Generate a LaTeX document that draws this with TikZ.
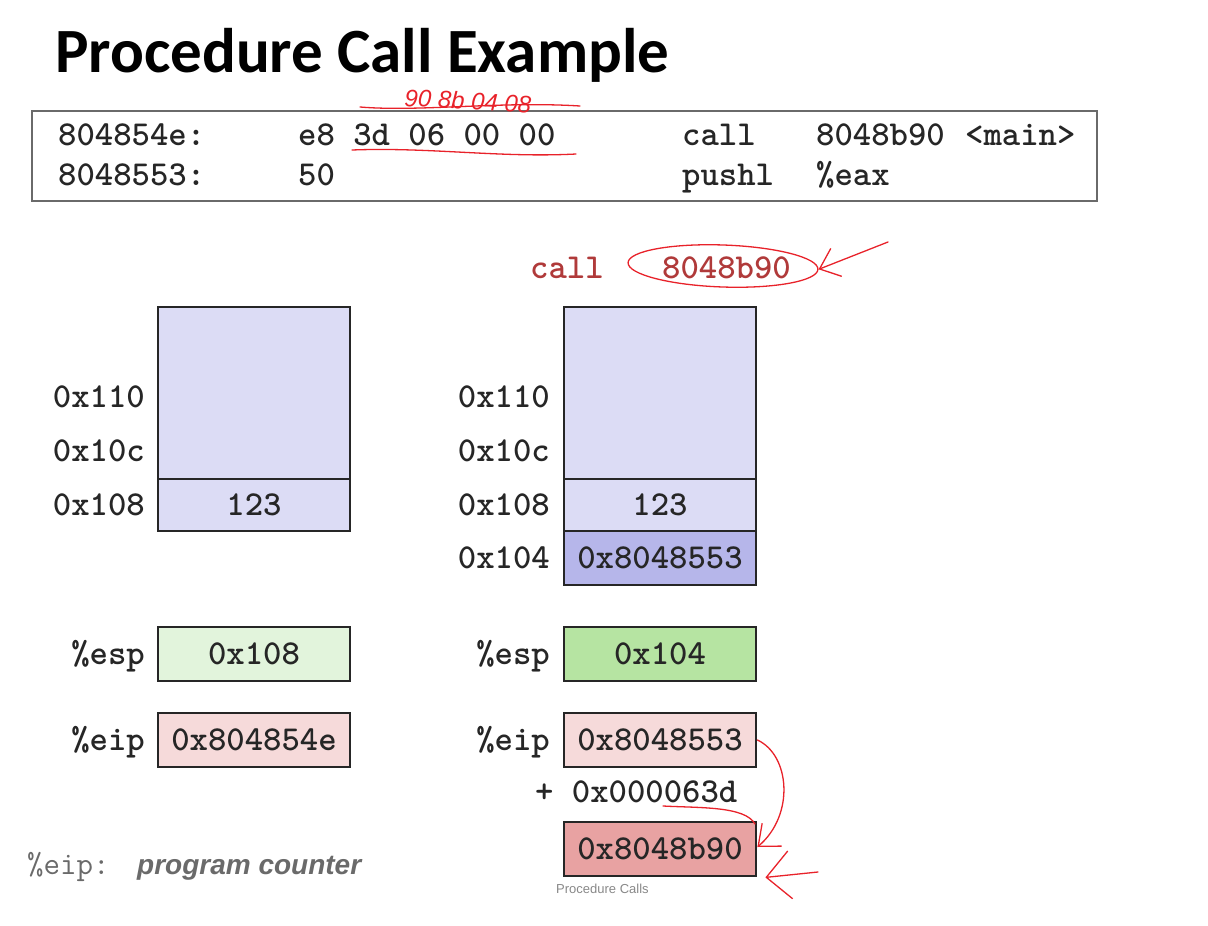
\documentclass[tikz,border=0pt]{standalone}
\usepackage{fontspec}
\setmainfont{Liberation Sans}
\newfontfamily\titlefont{Carlito}
\usetikzlibrary{arrows.meta,shapes.geometric}
\definecolor{ink}{HTML}{262626}
\definecolor{lav}{HTML}{DCDCF5}
\definecolor{lavdark}{HTML}{B6B6EA}
\definecolor{grnlight}{HTML}{E2F4DC}
\definecolor{grndark}{HTML}{B6E4A2}
\definecolor{pnklight}{HTML}{F6DADA}
\definecolor{pnkdark}{HTML}{E8A2A2}
\definecolor{pen}{HTML}{E8222A}
\definecolor{callred}{HTML}{B03A3A}
\definecolor{soft}{HTML}{6A6A6A}
\tikzset{
  mono/.style={font=\fontsize{35}{35}\selectfont\ttfamily\bfseries, text=ink, inner sep=0pt, text height=21pt, text depth=0pt},
  lbl/.style={mono, anchor=east},
  cell/.style={draw=ink, line width=2.8pt, minimum width=192pt, inner sep=0pt},
  pencil/.style={draw=pen, line width=1.3pt, line cap=round, line join=round},
  barb/.style={-{Straight Barb[length=18pt,width=30pt,line width=1.3pt]}},
  bigbarb/.style={-{Straight Barb[length=24pt,width=48pt,line width=1.3pt]}}
}
\begin{document}
\begin{tikzpicture}[x=1pt,y=-1pt]
\useasboundingbox (0,0) rectangle (1208,926);
% title
\node[anchor=base west, inner sep=0pt, font=\fontsize{63}{63}\selectfont\titlefont\bfseries, text=black] (title) at (55,72) {Procedure Call Example};
% code box
\node[draw=soft, line width=1.6pt, minimum width=1065pt, minimum height=90pt, inner sep=0pt] (code) at (564.5,156) {};
\node[mono, anchor=west] (a1) at (58,135) {804854e:};
\node[mono, anchor=west] (b1) at (298,135) {e8 3d 06 00 00};
\node[mono, anchor=west] (c1) at (682,135) {call};
\node[mono, anchor=west] (d1) at (816,135) {8048b90};
\node[mono, anchor=west] (e1) at (965,135) {<main>};
\node[mono, anchor=west] (a2) at (58,175) {8048553:};
\node[mono, anchor=west] (b2) at (298,175) {50};
\node[mono, anchor=west] (c2) at (682,175) {pushl};
\node[mono, anchor=west] (d2) at (816,175) {\%eax};
% handwritten notes on code
\node[font=\fontsize{24}{24}\selectfont\itshape, text=pen, inner sep=0pt, rotate=-3] (bytes) at (468,101) {90 8b 04 08};
\coordinate (ul1) at (352,150);
\coordinate (ul2) at (576,154);
\draw[pencil] (ul1) .. controls (430,147) and (500,158) .. (ul2);
\draw[pencil] (360,107) .. controls (420,112) and (500,101) .. (580,106);
% red call annotation
\node[mono, anchor=west, text=callred] (callw) at (530,268) {call};
\node[mono, anchor=west, text=callred] (calla) at (662,268) {8048b90};
\node[draw=pen, line width=1.3pt, ellipse, minimum width=190pt, minimum height=42pt, rotate=-2] (oval) at (723,266) {};
\coordinate (ovtail) at (888,242);
\draw[pencil, barb] (ovtail) -- (oval.east);
% left stack
\node[cell, fill=lav, minimum height=172pt] (ls) at (254,393) {};
\node[cell, fill=lav, minimum height=52pt, mono] (l108) at (254,505) {123};
\node[lbl] (ll110) at (145,397) {0x110};
\node[lbl] (ll10c) at (145,451) {0x10c};
\node[lbl] (ll108) at (145,505) {0x108};
\node[cell, fill=grnlight, minimum height=54pt, mono] (lesp) at (254,654) {0x108};
\node[lbl] (llesp) at (145,654) {\%esp};
\node[cell, fill=pnklight, minimum height=54pt, mono] (leip) at (254,740) {0x804854e};
\node[lbl] (lleip) at (145,740) {\%eip};
% right stack
\node[cell, fill=lav, minimum height=172pt] (rs) at (660,393) {};
\node[cell, fill=lav, minimum height=52pt, mono] (r108) at (660,505) {123};
\node[cell, fill=lavdark, minimum height=54pt, mono] (r104) at (660,558) {0x8048553};
\node[lbl] (rl110) at (550,397) {0x110};
\node[lbl] (rl10c) at (550,451) {0x10c};
\node[lbl] (rl108) at (550,505) {0x108};
\node[lbl] (rl104) at (550,558) {0x104};
\node[cell, fill=grndark, minimum height=54pt, mono] (resp) at (660,654) {0x104};
\node[lbl] (rlesp) at (550,654) {\%esp};
\node[cell, fill=pnklight, minimum height=54pt, mono] (reip) at (660,740) {0x8048553};
\node[lbl] (rleip) at (550,740) {\%eip};
\node[mono, anchor=west] (plus) at (535,792) {+ 0x000063d};
\node[cell, fill=pnkdark, minimum height=54pt, mono] (res) at (660,849) {0x8048b90};
% red pen arrows
\draw[pencil, barb] (reip.east) .. controls (790,755) and (795,815) .. ([yshift=2pt]res.east);
\coordinate (offs) at (663,806);
\draw[pencil] (offs) .. controls (700,808) and (745,806) .. (755,824);
\coordinate (rtail) at (818,872);
\draw[pencil, bigbarb] (rtail) -- ([xshift=8pt]res.south east);
% footer
\node[anchor=west, inner sep=0pt, font=\fontsize{13}{13}\selectfont, text=soft!80] (foot) at (556,889) {Procedure Calls};
\node[anchor=west, inner sep=0pt, font=\fontsize{32}{32}\selectfont\ttfamily, text=soft, text height=20pt, text depth=0pt] (pc1) at (27,864) {\%eip:};
\node[anchor=west, inner sep=0pt, font=\fontsize{28}{28}\selectfont\bfseries\itshape, text=soft, text height=20pt, text depth=0pt] (pc2) at (137,864) {program counter};
\end{tikzpicture}
\end{document}
